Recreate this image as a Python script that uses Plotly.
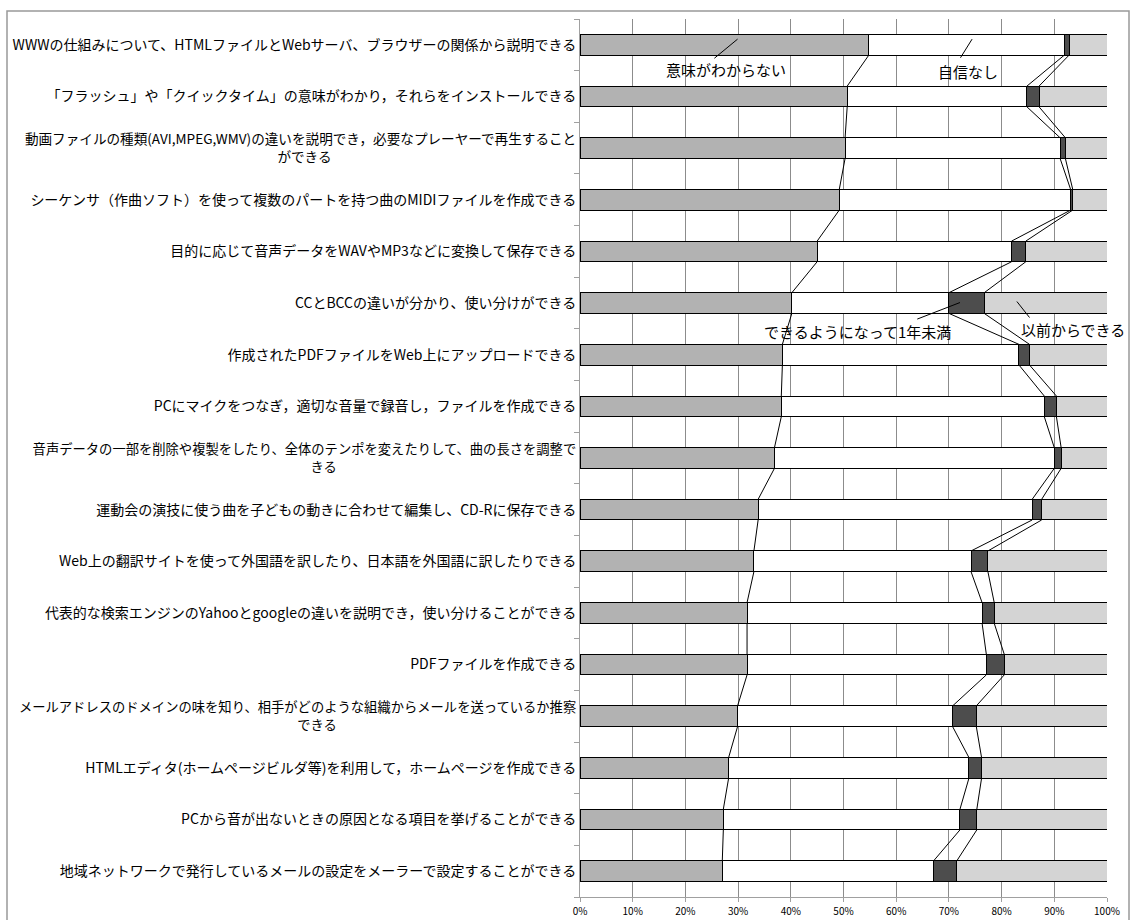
import plotly.graph_objects as go
import numpy as np


def two_line(first, second, size, pad):
    sp = '<span style="font-size:%spx">' % size
    return sp + first + "</span><br>" + sp + second + "\u3000" * pad + "</span>"


categories = [
    "WWWの仕組みについて、HTMLファイルとWebサーバ、ブラウザーの関係から説明できる",
    "「フラッシュ」や「クイックタイム」の意味がわかり，それらをインストールできる",
    two_line("動画ファイルの種類(AVI,MPEG,WMV)の違いを説明でき，必要なプレーヤーで再生すること", "ができる", 13.6, 18),
    "シーケンサ（作曲ソフト）を使って複数のパートを持つ曲のMIDIファイルを作成できる",
    "目的に応じて音声データをWAVやMP3などに変換して保存できる",
    "CCとBCCの違いが分かり、使い分けができる",
    "作成されたPDFファイルをWeb上にアップロードできる",
    "PCにマイクをつなぎ，適切な音量で録音し，ファイルを作成できる",
    two_line("音声データの一部を削除や複製をしたり、全体のテンポを変えたりして、曲の長さを調整で", "きる", 13.3, 18),
    "運動会の演技に使う曲を子どもの動きに合わせて編集し、CD-Rに保存できる",
    "Web上の翻訳サイトを使って外国語を訳したり、日本語を外国語に訳したりできる",
    "代表的な検索エンジンのYahooとgoogleの違いを説明でき，使い分けることができる",
    "PDFファイルを作成できる",
    two_line("メールアドレスのドメインの味を知り、相手がどのような組織からメールを送っているか推察", "できる", 13.3, 18),
    "HTMLエディタ(ホームページビルダ等)を利用して，ホームページを作成できる",
    "PCから音が出ないときの原因となる項目を挙げることができる",
    "地域ネットワークで発行しているメールの設定をメーラーで設定することができる",
]

s_unknown = [54.8, 50.7, 50.3, 49.2, 45.0, 40.2, 38.4, 38.2, 36.9, 33.8, 33.0, 31.7, 31.7, 29.9, 28.2, 27.2, 27.0]
s_noconf = [37.1, 34.1, 40.8, 43.9, 36.9, 29.8, 44.9, 49.9, 53.1, 52.0, 41.2, 44.6, 45.4, 40.8, 45.6, 44.9, 40.1]
s_recent = [0.9, 2.3, 1.0, 0.4, 2.7, 6.7, 2.0, 2.3, 1.3, 1.8, 3.2, 2.3, 3.4, 4.5, 2.4, 3.2, 4.4]
s_before = [7.2, 12.9, 7.9, 6.5, 15.4, 23.3, 14.7, 9.6, 8.7, 12.4, 22.6, 21.4, 19.5, 24.8, 23.8, 24.7, 28.5]

series_names = ["意味がわからない", "自信なし", "できるようになって1年未満", "以前からできる"]
x_tickvals = [0, 10, 20, 30, 40, 50, 60, 70, 80, 90, 100]
x_ticktext = ["0%", "10%", "20%", "30%", "40%", "50%", "60%", "70%", "80%", "90%", "100%"]

colors = ["#b2b2b2", "#ffffff", "#4d4d4d", "#d4d4d4"]
FONT = "Noto Sans CJK JP"
BAR_W = 0.4

idx = list(range(len(categories)))
fig = go.Figure()
for name, vals, col in zip(series_names, [s_unknown, s_noconf, s_recent, s_before], colors):
    fig.add_trace(go.Bar(
        y=idx, x=vals, orientation="h", name=name, width=BAR_W,
        marker=dict(color=col, line=dict(color="#000000", width=1)),
        showlegend=False,
    ))

# series lines connecting the segment boundaries of consecutive bars
cum = np.cumsum(np.array([s_unknown, s_noconf, s_recent]), axis=0)
half = BAR_W / 2
for k in range(3):
    xs, ys = [], []
    for i in range(len(idx) - 1):
        xs += [cum[k][i], cum[k][i + 1], None]
        ys += [idx[i] + half, idx[i + 1] - half, None]
    fig.add_trace(go.Scatter(x=xs, y=ys, mode="lines", line=dict(color="#000000", width=1),
                             hoverinfo="skip", showlegend=False))

# series name call-outs
labels = [
    ("意味がわからない", 27.7, 0.47),
    ("自信なし", 73.6, 0.52),
    ("できるようになって1年未満", 52.6, 5.55),
    ("以前からできる", 93.5, 5.51),
]
for txt, xx, yy in labels:
    fig.add_annotation(x=xx, y=yy, xref="x", yref="y", text=txt, showarrow=False,
                       font=dict(family=FONT, size=15, color="#000000"))

leaders = [
    (29.9, -0.11, 25.5, 0.26),
    (74.4, -0.11, 72.2, 0.25),
    (72.1, 4.99, 64.0, 5.31),
    (82.9, 4.97, 85.3, 5.28),
]
for x0, y0, x1, y1 in leaders:
    fig.add_shape(type="line", xref="x", yref="y", x0=x0, y0=y0, x1=x1, y1=y1,
                  line=dict(color="#000000", width=1))

# outer chart border
fig.add_shape(type="rect", xref="paper", yref="paper",
              x0=(7 - 580) / 527, x1=(1129 - 580) / 527,
              y0=(897 - 925) / 878, y1=(897 - 11) / 878,
              line=dict(color="#999999", width=1.5), fillcolor="rgba(0,0,0,0)", layer="below")

fig.update_layout(
    width=1131, height=920,
    margin=dict(l=580, r=24, t=19, b=23, autoexpand=False),
    barmode="stack",
    plot_bgcolor="#ffffff", paper_bgcolor="#ffffff",
    font=dict(family=FONT, color="#000000"),
    showlegend=False,
)
fig.update_xaxes(
    range=[0, 100], tickvals=x_tickvals, ticktext=x_ticktext,
    showgrid=True, gridcolor="#8c8c8c", gridwidth=1,
    showline=True, linecolor="#a0a0a0", linewidth=1,
    ticks="outside", ticklen=4, tickcolor="#a0a0a0",
    tickfont=dict(family=FONT, size=10, color="#000000"),
    zeroline=False, ticklabelstandoff=1, automargin=False,
)
fig.update_yaxes(
    range=[len(idx) - 0.5, -0.5], tickvals=idx, ticktext=categories,
    ticks="", showgrid=False, zeroline=False,
    showline=True, linecolor="#a0a0a0", linewidth=1,
    tickfont=dict(family=FONT, size=14, color="#000000"),
    minor=dict(tickvals=[i - 0.5 for i in range(len(idx) + 1)], ticks="outside",
               ticklen=5, tickcolor="#a0a0a0", showgrid=False),
    automargin=False,
)

fig.write_html("out.html", config={"displayModeBar": False},
               post_script="document.body.style.margin='0';")
